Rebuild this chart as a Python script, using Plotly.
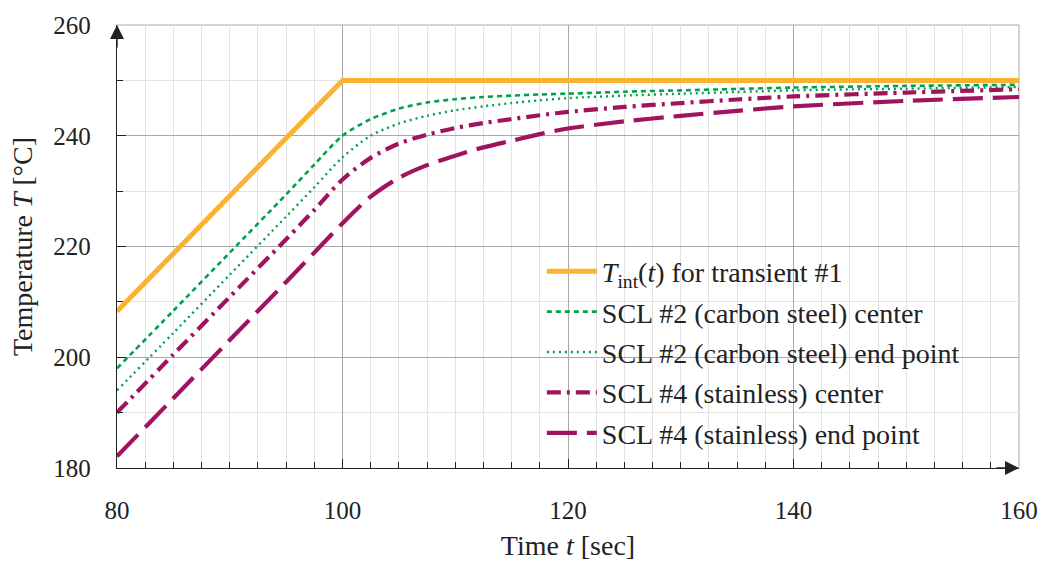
import plotly.graph_objects as go

# ---- data ----
time_tint = [80, 100, 160]
temp_tint = [208.3, 250.0, 250.0]

time_scl = [80, 85, 90, 95, 97.5, 100, 102.5, 105, 107.5, 110, 112.5, 115, 117.5, 120,
            125, 130, 135, 140, 150, 160]
scl2_center = [198.0, 208.4, 218.9, 229.4, 234.8, 240.0, 243.0, 244.9, 246.0, 246.6, 247.0, 247.25, 247.45, 247.6,
               247.95, 248.2, 248.45, 248.7, 249.0, 249.2]
scl2_end = [194.0, 204.4, 214.9, 225.4, 230.7, 236.1, 240.0, 242.2, 243.6, 244.6, 245.3, 245.9, 246.4, 246.8,
            247.25, 247.6, 247.9, 248.2, 248.5, 248.8]
scl4_center = [190.0, 200.5, 210.9, 221.3, 226.6, 232.1, 236.0, 238.6, 240.2, 241.4, 242.3, 243.0, 243.7, 244.3,
               245.2, 245.9, 246.55, 247.1, 247.8, 248.4]
scl4_end = [182.1, 192.6, 203.1, 213.6, 218.9, 224.2, 229.0, 232.4, 234.7, 236.4, 237.9, 239.1, 240.3, 241.3,
            242.6, 243.6, 244.5, 245.3, 246.3, 247.0]

names = [
    "<i>T</i><sub>int</sub>(<i>t</i>) for transient #1",
    "SCL #2 (carbon steel) center",
    "SCL #2 (carbon steel) end point",
    "SCL #4 (stainless) center",
    "SCL #4 (stainless) end point",
]

ORANGE = "#FBB232"
GREEN = "#00A04D"
PURPLE = "#A0135F"
FONT = "Liberation Serif"
TXT = "#222222"

fig = go.Figure()
fig.add_trace(go.Scatter(x=time_tint, y=temp_tint, mode="lines", name=names[0], legendgroup="g0",
                         line=dict(color=ORANGE, width=5)))
fig.add_trace(go.Scatter(x=time_scl, y=scl2_center, mode="lines", name=names[1], legendgroup="g1",
                         line=dict(color=GREEN, width=2.6, dash="5px,4px", shape="spline", smoothing=0.8)))
fig.add_trace(go.Scatter(x=time_scl, y=scl2_end, mode="lines", name=names[2], legendgroup="g2",
                         line=dict(color=GREEN, width=2.4, dash="2px,4px", shape="spline", smoothing=0.8)))
fig.add_trace(go.Scatter(x=time_scl, y=scl4_center, mode="lines", name=names[3], legendgroup="g3",
                         line=dict(color=PURPLE, width=4.2, dash="14px,6px,3px,6px", shape="spline", smoothing=0.8)))
fig.add_trace(go.Scatter(x=time_scl, y=scl4_end, mode="lines", name=names[4], legendgroup="g4",
                         line=dict(color=PURPLE, width=4.2, dash="30px,10px", shape="spline", smoothing=0.8)))

axis_common = dict(
    showline=True, linecolor=TXT, linewidth=1.4,
    ticks="inside", ticklen=9, tickwidth=1.2, tickcolor=TXT,
    showgrid=True, gridcolor="#a8a8a8", gridwidth=1,
    zeroline=False, mirror=False,
    tickfont=dict(family=FONT, size=25, color=TXT),
    ticklabelstandoff=20,
)

fig.update_xaxes(
    range=[80, 160], tick0=80, dtick=20, **axis_common,
    minor=dict(dtick=2.5, showgrid=True, gridcolor="#e3e3e3", ticks="inside", ticklen=6, tickcolor=TXT),
    title=dict(text="Time <i>t</i> [sec]", font=dict(family=FONT, size=28, color=TXT), standoff=12),
)
fig.update_yaxes(
    range=[180, 260], tick0=180, dtick=20, **axis_common,
    minor=dict(dtick=10, showgrid=True, gridcolor="#e3e3e3", ticks="inside", ticklen=6, tickcolor=TXT),
    title=dict(text="Temperature <i>T</i> [°C]", font=dict(family=FONT, size=28, color=TXT), standoff=12),
)

# top and right frame lines (gray, like the major grid)
fig.add_shape(type="line", xref="paper", yref="paper", x0=0, x1=1, y0=1, y1=1,
              line=dict(color="#a8a8a8", width=1), layer="below")
fig.add_shape(type="line", xref="paper", yref="paper", x0=1, x1=1, y0=0, y1=1,
              line=dict(color="#a8a8a8", width=1), layer="below")

# axis arrowheads
fig.add_annotation(x=0, y=1, xref="paper", yref="paper", ax=0, ay=24, text="", showarrow=True,
                   arrowhead=2, arrowsize=2.0, arrowwidth=1.4, arrowcolor=TXT)
fig.add_annotation(x=1, y=0, xref="paper", yref="paper", ax=-24, ay=0, text="", showarrow=True,
                   arrowhead=2, arrowsize=2.0, arrowwidth=1.4, arrowcolor=TXT)

fig.update_layout(
    width=1050, height=568,
    margin=dict(l=117, r=28, t=18, b=96),
    paper_bgcolor="white", plot_bgcolor="white",
    font=dict(family=FONT, size=25, color=TXT),
    legend=dict(x=0.471, y=0.50, xanchor="left", yanchor="top",
                bgcolor="rgba(0,0,0,0)", borderwidth=0,
                font=dict(family=FONT, size=28, color=TXT),
                traceorder="grouped", tracegroupgap=1, itemwidth=50),
    showlegend=True,
)

fig.write_html("out.html")
